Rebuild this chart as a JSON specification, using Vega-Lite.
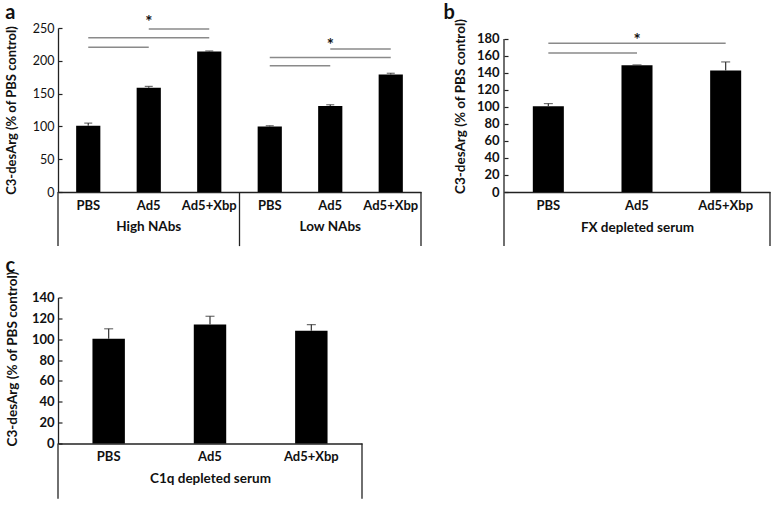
{
  "$schema": "https://vega.github.io/schema/vega-lite/v6.json",
  "background": "white",
  "padding": {"left": 5, "top": 3, "right": 0, "bottom": 0},
  "columns": 2,
  "spacing": {"row": 8.5, "column": 21},
  "config": {
    "font": "Lato",
    "view": {"stroke": null},
    "axis": {"domainColor": "#222", "domainWidth": 1.3, "tickColor": "#222", "tickWidth": 1.2, "labelColor": "#111", "titleColor": "#111", "grid": false, "labelFont": "Lato", "titleFont": "Lato", "labelOverlap": false, "labelFlush": false},
    "title": {"anchor": "start", "fontSize": 20, "fontWeight": "bold", "font": "Lato", "color": "#111"}
  },
  "datasets": {
    "a_bars": [
      {"cat": "High|PBS", "value": 101, "upper": 105},
      {"cat": "High|Ad5", "value": 159, "upper": 161},
      {"cat": "High|Ad5+Xbp", "value": 214, "upper": 215},
      {"cat": "Low|PBS", "value": 100, "upper": 101},
      {"cat": "Low|Ad5", "value": 131, "upper": 133},
      {"cat": "Low|Ad5+Xbp", "value": 179, "upper": 181}
    ],
    "a_sig": [
      {"from": "High|PBS", "to": "High|Ad5", "level": 220.5},
      {"from": "High|PBS", "to": "High|Ad5+Xbp", "level": 235},
      {"from": "High|Ad5", "to": "High|Ad5+Xbp", "level": 248.5},
      {"from": "Low|PBS", "to": "Low|Ad5", "level": 192.5},
      {"from": "Low|PBS", "to": "Low|Ad5+Xbp", "level": 205},
      {"from": "Low|Ad5", "to": "Low|Ad5+Xbp", "level": 218}
    ],
    "a_star": [
      {"cat": "High|Ad5", "level": 257, "text": "*"},
      {"cat": "Low|Ad5", "level": 223, "text": "*"}
    ],
    "a_groups": [
      {"cat": "High|Ad5", "text": "High NAbs"},
      {"cat": "Low|Ad5", "text": "Low NAbs"}
    ],
    "b_bars": [
      {"cat": "PBS", "value": 101, "upper": 104},
      {"cat": "Ad5", "value": 149, "upper": 149.5},
      {"cat": "Ad5+Xbp", "value": 143, "upper": 153}
    ],
    "b_sig": [
      {"from": "PBS", "to": "Ad5", "level": 163.5},
      {"from": "PBS", "to": "Ad5+Xbp", "level": 175}
    ],
    "b_star": [
      {"cat": "Ad5", "level": 178, "text": "*"}
    ],
    "c_bars": [
      {"cat": "PBS", "value": 100.5, "upper": 110},
      {"cat": "Ad5", "value": 114, "upper": 122},
      {"cat": "Ad5+Xbp", "value": 108, "upper": 114}
    ]
  },
  "concat": [
    {
      "title": {"text": "a", "offset": -9},
      "width": 363,
      "height": 164,
      "layer": [
        {
          "data": {"name": "a_bars"},
          "mark": {"type": "bar", "color": "black", "width": {"band": 0.4}},
          "encoding": {
            "x": {"field": "cat", "type": "nominal", "sort": null, "title": null,
                  "scale": {"paddingInner": 0, "paddingOuter": 0},
                  "axis": {"labelAngle": 0, "ticks": false, "labelPadding": 7, "labelFontSize": 13, "labelFontWeight": "bold", "labelOverlap": false, "labelExpr": "split(datum.value, '|')[1]"}},
            "y": {"field": "value", "type": "quantitative", "title": "C3-desArg (% of PBS control)",
                  "scale": {"domain": [0, 250], "nice": false},
                  "axis": {"values": [0, 50, 100, 150, 200, 250], "tickCount": 30, "labelOverlap": false, "tickSize": -4, "labelPadding": 8, "labelFontSize": 12.5, "labelFontWeight": "normal", "titleFontSize": 13, "titleFontWeight": "bold", "titlePadding": 14}}
          }
        },
        {
          "data": {"name": "a_bars"},
          "mark": {"type": "rule", "color": "#333", "strokeWidth": 1.2},
          "encoding": {
            "x": {"field": "cat", "type": "nominal", "sort": null},
            "y": {"field": "value", "type": "quantitative"},
            "y2": {"field": "upper"}
          }
        },
        {
          "data": {"name": "a_bars"},
          "mark": {"type": "tick", "color": "#333", "thickness": 1.2, "size": 8},
          "encoding": {
            "x": {"field": "cat", "type": "nominal", "sort": null},
            "y": {"field": "upper", "type": "quantitative"}
          }
        },
        {
          "data": {"name": "a_sig"},
          "mark": {"type": "rule", "color": "#8a8a8a", "strokeWidth": 1.5},
          "encoding": {
            "x": {"field": "from", "type": "nominal", "sort": null},
            "x2": {"field": "to"},
            "y": {"field": "level", "type": "quantitative"}
          }
        },
        {
          "data": {"name": "a_star"},
          "mark": {"type": "text", "fontSize": 17, "fontWeight": "bold", "fill": "#111", "baseline": "middle"},
          "encoding": {
            "x": {"field": "cat", "type": "nominal", "sort": null},
            "y": {"field": "level", "type": "quantitative"},
            "text": {"field": "text"}
          }
        },
        {
          "data": {"name": "a_groups"},
          "mark": {"type": "text", "fontSize": 13.5, "fontWeight": "bold", "fill": "#111", "baseline": "middle"},
          "encoding": {
            "x": {"field": "cat", "type": "nominal", "sort": null},
            "y": {"datum": -53},
            "text": {"field": "text"}
          }
        },
        {
          "data": {"name": "a_bars"},
          "transform": [{"filter": "datum.cat == 'High|PBS' || datum.cat == 'Low|PBS'"}],
          "mark": {"type": "rule", "color": "#222", "strokeWidth": 1.3},
          "encoding": {
            "x": {"field": "cat", "type": "nominal", "sort": null, "bandPosition": 0},
            "y": {"datum": 0},
            "y2": {"datum": -82.5}
          }
        },
        {
          "data": {"name": "a_bars"},
          "transform": [{"filter": "datum.cat == 'Low|Ad5+Xbp'"}],
          "mark": {"type": "rule", "color": "#222", "strokeWidth": 1.3},
          "encoding": {
            "x": {"field": "cat", "type": "nominal", "sort": null, "bandPosition": 1},
            "y": {"datum": 0},
            "y2": {"datum": -82.5}
          }
        }
      ]
    },
    {
      "title": {"text": "b", "offset": -5, "dx": -10},
      "width": 266,
      "height": 164,
      "layer": [
        {
          "data": {"name": "b_bars"},
          "mark": {"type": "bar", "color": "black", "width": {"band": 0.35}},
          "encoding": {
            "x": {"field": "cat", "type": "nominal", "sort": null,
                  "scale": {"paddingInner": 0, "paddingOuter": 0},
                  "axis": {"labelAngle": 0, "ticks": false, "labelPadding": 7, "labelFontSize": 13, "labelFontWeight": "bold", "labelOverlap": false, "title": "FX depleted serum", "titleFontSize": 13.5, "titleFontWeight": "bold", "titlePadding": 8}},
            "y": {"field": "value", "type": "quantitative", "title": "C3-desArg (% of PBS control)",
                  "scale": {"domain": [0, 192.9], "nice": false},
                  "axis": {"values": [0, 20, 40, 60, 80, 100, 120, 140, 160, 180], "tickCount": 30, "labelOverlap": false, "domain": false, "tickSize": -4, "labelPadding": 9, "labelFontSize": 13, "labelFontWeight": "bold", "titleFontSize": 13.5, "titleFontWeight": "bold", "titlePadding": 9, "titleY": 78}}
          }
        },
        {
          "data": {"name": "b_bars"},
          "mark": {"type": "rule", "color": "#333", "strokeWidth": 1.2},
          "encoding": {
            "x": {"field": "cat", "type": "nominal", "sort": null},
            "y": {"field": "value", "type": "quantitative"},
            "y2": {"field": "upper"}
          }
        },
        {
          "data": {"name": "b_bars"},
          "mark": {"type": "tick", "color": "#333", "thickness": 1.2, "size": 9},
          "encoding": {
            "x": {"field": "cat", "type": "nominal", "sort": null},
            "y": {"field": "upper", "type": "quantitative"}
          }
        },
        {
          "data": {"name": "b_sig"},
          "mark": {"type": "rule", "color": "#8a8a8a", "strokeWidth": 1.5},
          "encoding": {
            "x": {"field": "from", "type": "nominal", "sort": null},
            "x2": {"field": "to"},
            "y": {"field": "level", "type": "quantitative"}
          }
        },
        {
          "data": {"name": "b_star"},
          "mark": {"type": "text", "fontSize": 17, "fontWeight": "bold", "fill": "#111", "baseline": "middle"},
          "encoding": {
            "x": {"field": "cat", "type": "nominal", "sort": null},
            "y": {"field": "level", "type": "quantitative"},
            "text": {"field": "text"}
          }
        },
        {
          "data": {"name": "b_bars"},
          "transform": [{"filter": "datum.cat == 'PBS'"}],
          "mark": {"type": "rule", "color": "#222", "strokeWidth": 1.3},
          "encoding": {
            "x": {"field": "cat", "type": "nominal", "sort": null, "bandPosition": 0},
            "y": {"datum": 180},
            "y2": {"datum": -63.5}
          }
        },
        {
          "data": {"name": "b_bars"},
          "transform": [{"filter": "datum.cat == 'Ad5+Xbp'"}],
          "mark": {"type": "rule", "color": "#222", "strokeWidth": 1.3},
          "encoding": {
            "x": {"field": "cat", "type": "nominal", "sort": null, "bandPosition": 1},
            "y": {"datum": 0},
            "y2": {"datum": -63.5}
          }
        }
      ]
    },
    {
      "title": {"text": "c", "offset": -5.5},
      "width": 304,
      "height": 146,
      "layer": [
        {
          "data": {"name": "c_bars"},
          "mark": {"type": "bar", "color": "black", "width": {"band": 0.32}},
          "encoding": {
            "x": {"field": "cat", "type": "nominal", "sort": null,
                  "scale": {"paddingInner": 0, "paddingOuter": 0},
                  "axis": {"labelAngle": 0, "ticks": false, "labelPadding": 7, "labelFontSize": 13, "labelFontWeight": "bold", "labelOverlap": false, "title": "C1q depleted serum", "titleFontSize": 13.5, "titleFontWeight": "bold", "titlePadding": 8}},
            "y": {"field": "value", "type": "quantitative", "title": "C3-desArg (% of PBS control)",
                  "scale": {"domain": [0, 140], "nice": false},
                  "axis": {"values": [0, 20, 40, 60, 80, 100, 120, 140], "tickCount": 30, "labelOverlap": false, "tickSize": -4, "labelPadding": 8, "labelFontSize": 13, "labelFontWeight": "bold", "titleFontSize": 13.5, "titleFontWeight": "bold", "titlePadding": 12, "titleY": 61}}
          }
        },
        {
          "data": {"name": "c_bars"},
          "mark": {"type": "rule", "color": "#333", "strokeWidth": 1.2},
          "encoding": {
            "x": {"field": "cat", "type": "nominal", "sort": null},
            "y": {"field": "value", "type": "quantitative"},
            "y2": {"field": "upper"}
          }
        },
        {
          "data": {"name": "c_bars"},
          "mark": {"type": "tick", "color": "#333", "thickness": 1.2, "size": 9},
          "encoding": {
            "x": {"field": "cat", "type": "nominal", "sort": null},
            "y": {"field": "upper", "type": "quantitative"}
          }
        },
        {
          "data": {"name": "c_bars"},
          "transform": [{"filter": "datum.cat == 'PBS'"}],
          "mark": {"type": "rule", "color": "#222", "strokeWidth": 1.3},
          "encoding": {
            "x": {"field": "cat", "type": "nominal", "sort": null, "bandPosition": 0},
            "y": {"datum": 0},
            "y2": {"datum": -53}
          }
        },
        {
          "data": {"name": "c_bars"},
          "transform": [{"filter": "datum.cat == 'Ad5+Xbp'"}],
          "mark": {"type": "rule", "color": "#222", "strokeWidth": 1.3},
          "encoding": {
            "x": {"field": "cat", "type": "nominal", "sort": null, "bandPosition": 1},
            "y": {"datum": 0},
            "y2": {"datum": -53}
          }
        }
      ]
    }
  ]
}
